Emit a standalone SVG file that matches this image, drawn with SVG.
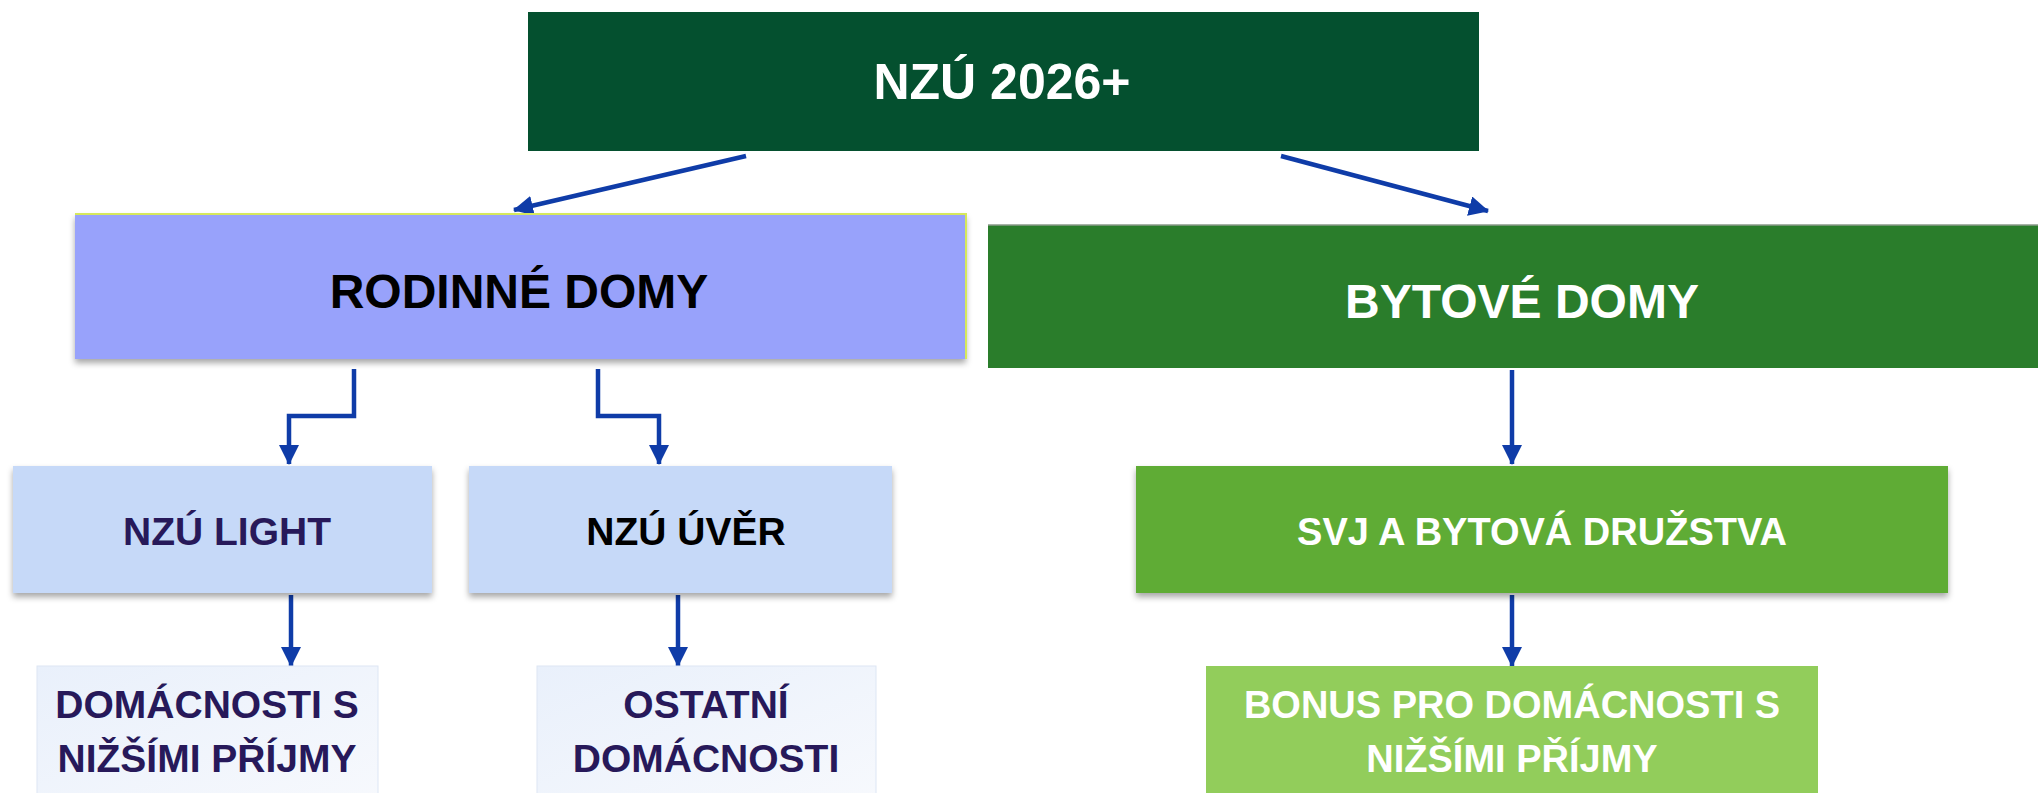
<svg xmlns="http://www.w3.org/2000/svg" width="2038" height="793" viewBox="0 0 2038 793">
<style>
  text { font-family: "Liberation Sans", Arial, sans-serif; font-weight: bold; text-anchor: middle; }
  .big { font-size: 48px; }
  .mid { font-size: 39px; }
  .w { fill: #ffffff; }
  .k { fill: #000000; }
  .nv { fill: #27195a; }
  .conn { fill: none; stroke: #0f3ca8; stroke-width: 4.5; marker-end: url(#ah); }
</style>
<defs>
  <marker id="ah" markerUnits="userSpaceOnUse" markerWidth="20" markerHeight="20" viewBox="0 0 20 20" refX="19" refY="10" orient="auto">
    <path d="M0,0 L20,10 L0,20 z" fill="#0f3ca8"/>
  </marker>
  <filter id="sh" x="-5%" y="-10%" width="110%" height="130%">
    <feDropShadow dx="0" dy="4" stdDeviation="3" flood-color="#000" flood-opacity="0.35"/>
  </filter>
  <linearGradient id="pale" x1="0" y1="0" x2="1" y2="1">
    <stop offset="0" stop-color="#e9f0fb"/>
    <stop offset="1" stop-color="#f7f9fd"/>
  </linearGradient>
</defs>
<rect width="2038" height="793" fill="#ffffff"/>

<g id="connectors">
  <line class="conn" x1="746" y1="156" x2="514" y2="210"/>
  <line class="conn" x1="1281" y1="156" x2="1488" y2="211"/>
  <polyline class="conn" points="354,369 354,416 289,416 289,464"/>
  <polyline class="conn" points="598,369 598,416 659,416 659,464"/>
  <line class="conn" x1="291" y1="595" x2="291" y2="666"/>
  <line class="conn" x1="678" y1="595" x2="678" y2="666"/>
  <line class="conn" x1="1512" y1="370" x2="1512" y2="464"/>
  <line class="conn" x1="1512" y1="595" x2="1512" y2="666"/>
</g>

<g id="n-nzu2026">
  <rect x="528" y="12" width="951" height="139" fill="#04502f"/>
  <text class="w" style="font-size:50px" x="1002" y="99">NZÚ 2026+</text>
</g>

<g id="n-rodinne">
  <rect x="75" y="214" width="891" height="145" fill="#98a2fb" filter="url(#sh)"/>
  <polyline points="75,214 966,214 966,359" fill="none" stroke="#d6e85c" stroke-width="2"/>
  <text class="big k" x="519" y="308">RODINNÉ DOMY</text>
</g>

<g id="n-bytove">
  <rect x="988" y="225" width="1050" height="143" fill="#2a7d2b"/>
  <line x1="988" y1="225" x2="2038" y2="225" stroke="#8a9a8a" stroke-width="1.5"/>
  <text class="big w" x="1522" y="318">BYTOVÉ DOMY</text>
</g>

<g id="n-light">
  <rect x="13" y="466" width="419" height="127" fill="#c6d9f8" filter="url(#sh)"/>
  <text class="mid nv" x="227" y="545">NZÚ LIGHT</text>
</g>

<g id="n-uver">
  <rect x="469" y="466" width="423" height="127" fill="#c6d9f8" filter="url(#sh)"/>
  <text class="mid k" x="686" y="545">NZÚ ÚVĚR</text>
</g>

<g id="n-svj">
  <rect x="1136" y="466" width="812" height="127" fill="#5fac35" filter="url(#sh)"/>
  <text class="w" style="font-size:38px" x="1542" y="545">SVJ A BYTOVÁ DRUŽSTVA</text>
</g>

<g id="n-domacnosti">
  <rect x="37" y="666" width="341" height="140" fill="url(#pale)" stroke="#dde6f4" stroke-width="1"/>
  <text class="mid nv" x="207" y="718">DOMÁCNOSTI S</text>
  <text class="mid nv" x="207" y="772">NIŽŠÍMI PŘÍJMY</text>
</g>

<g id="n-ostatni">
  <rect x="537" y="666" width="339" height="140" fill="url(#pale)" stroke="#dde6f4" stroke-width="1"/>
  <text class="mid nv" x="706" y="718">OSTATNÍ</text>
  <text class="mid nv" x="706" y="772">DOMÁCNOSTI</text>
</g>

<g id="n-bonus">
  <rect x="1206" y="666" width="612" height="140" fill="#92cd5b"/>
  <text class="w" style="font-size:38px" x="1512" y="718">BONUS PRO DOMÁCNOSTI S</text>
  <text class="w" style="font-size:38px" x="1512" y="772">NIŽŠÍMI PŘÍJMY</text>
</g>
</svg>
